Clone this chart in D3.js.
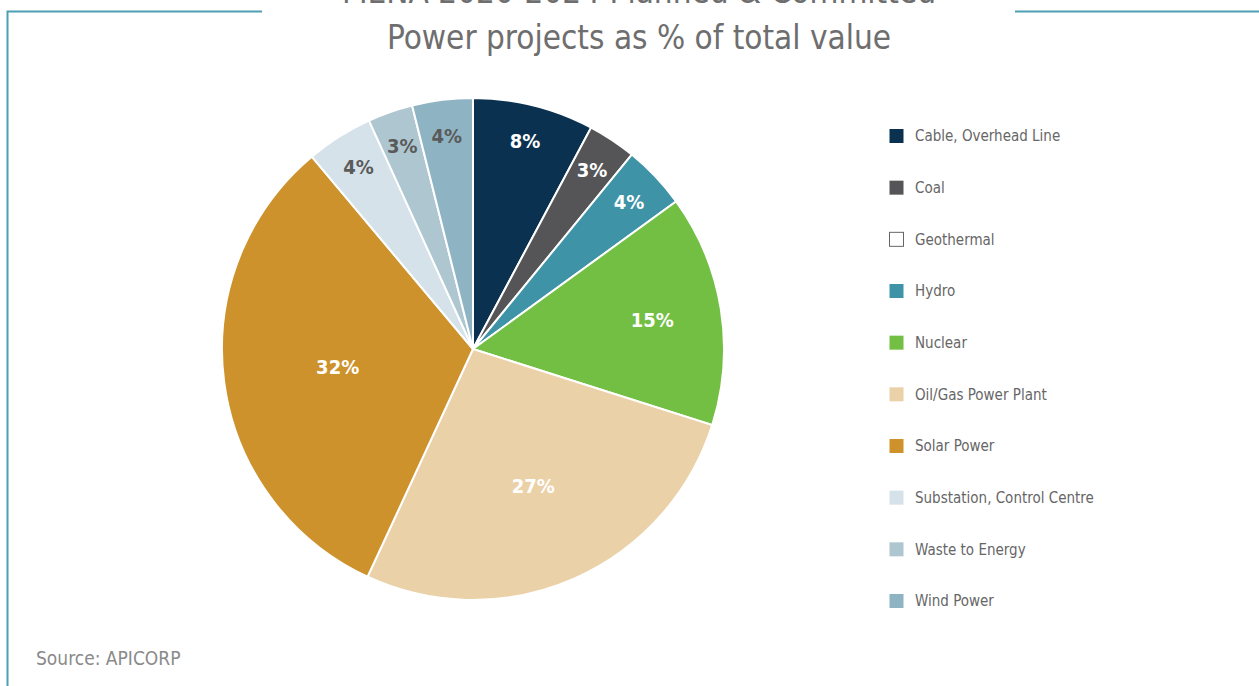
<!DOCTYPE html>
<html lang="en">
<head>
    <meta charset="UTF-8">
    <title>Power projects as % of total value</title>
    <script src="https://d3js.org/d3.v7.min.js"></script>
    <style>
        body {
            margin: 0;
            background: #fff;
        }
        svg text {
            font-family: "Liberation Sans Narrow", "DejaVu Sans Condensed", "Roboto", sans-serif;
        }
    </style>
</head>
<body>
    <div id="chart"></div>

    <script>
        const categories = [
            "Cable, Overhead Line", "Coal", "Geothermal", "Hydro", "Nuclear",
            "Oil/Gas Power Plant", "Solar Power", "Substation, Control Centre",
            "Waste to Energy", "Wind Power"
        ];
        const shares = [7.8, 3.1, 0, 4.1, 14.9, 27.0, 32.0, 4.3, 2.9, 3.9];
        const colours = [
            "#0b3151", "#555557", "#ffffff", "#3f93a6", "#72bf44",
            "#ebd1a7", "#cd922c", "#d6e2ea", "#adc6d0", "#8eb4c4"
        ];
        const darkLabel = [false, false, false, false, false, false, false, true, true, true];

        const width = 1259, height = 686;
        const cx = 473, cy = 349, radius = 251;

        const svg = d3.select("#chart").append("svg")
            .attr("width", width)
            .attr("height", height);

        // frame
        const frameColour = "#4d9fb1";
        svg.append("path")
            .attr("d", "M7.5,686 V11.5 H262")
            .attr("fill", "none")
            .attr("stroke", frameColour)
            .attr("stroke-width", 2);
        svg.append("line")
            .attr("x1", 1015).attr("x2", width)
            .attr("y1", 11.5).attr("y2", 11.5)
            .attr("stroke", frameColour)
            .attr("stroke-width", 2);

        // titles (first line is cut off at the top of the picture, as in the original)
        svg.append("text")
            .attr("x", 639).attr("y", 3)
            .attr("text-anchor", "middle")
            .attr("font-size", 33)
            .attr("fill", "#6e6e6e")
            .text("MENA 2020-2024 Planned & Committed");
        svg.append("text")
            .attr("x", 639).attr("y", 49)
            .attr("text-anchor", "middle")
            .attr("font-size", 33)
            .attr("fill", "#6e6e6e")
            .text("Power projects as % of total value");

        const data = categories.map((c, i) => ({ name: c, value: shares[i], colour: colours[i], dark: darkLabel[i] }));

        const pie = d3.pie().sort(null).value(d => d.value);
        const arcs = pie(data);
        const arc = d3.arc().innerRadius(0).outerRadius(radius);

        const g = svg.append("g").attr("transform", `translate(${cx},${cy})`);

        g.selectAll("path.slice")
            .data(arcs.filter(d => d.data.value > 0))
            .enter().append("path")
            .attr("class", "slice")
            .attr("d", arc)
            .attr("fill", d => d.data.colour)
            .attr("stroke", "#fff")
            .attr("stroke-width", 2);

        // labels sit further out on small slices
        const labelRadius = v => radius * (v < 10 ? 0.855 : 0.88 - 0.0105 * v);

        g.selectAll("text.pct")
            .data(arcs.filter(d => d.data.value > 0))
            .enter().append("text")
            .attr("class", "pct")
            .attr("transform", d => {
                const a = (d.startAngle + d.endAngle) / 2;
                const r = labelRadius(d.data.value);
                return `translate(${r * Math.sin(a)},${-r * Math.cos(a)})`;
            })
            .attr("text-anchor", "middle")
            .attr("dy", "0.35em")
            .attr("font-size", 20)
            .attr("font-weight", "bold")
            .attr("fill", d => d.data.dark ? "#5a5a5a" : "#ffffff")
            .text(d => Math.round(d.data.value) + "%");

        // legend
        const legendY = d3.scalePoint()
            .domain(categories)
            .range([136, 601]);

        const legend = svg.append("g").attr("class", "legend");
        const items = legend.selectAll("g")
            .data(data)
            .enter().append("g")
            .attr("transform", d => `translate(889,${legendY(d.name)})`);

        items.append("rect")
            .attr("x", 0.5).attr("y", -7)
            .attr("width", 14).attr("height", 14)
            .attr("fill", d => d.colour)
            .attr("stroke", d => d.colour === "#ffffff" ? "#666" : "none")
            .attr("stroke-width", 1);

        items.append("text")
            .attr("x", 26)
            .attr("dy", "0.35em")
            .attr("font-size", 15)
            .attr("fill", "#666")
            .text(d => d.name);

        svg.append("text")
            .attr("x", 36).attr("y", 665)
            .attr("font-size", 19)
            .attr("fill", "#8a8a8a")
            .text("Source: APICORP");
    </script>
</body>
</html>
